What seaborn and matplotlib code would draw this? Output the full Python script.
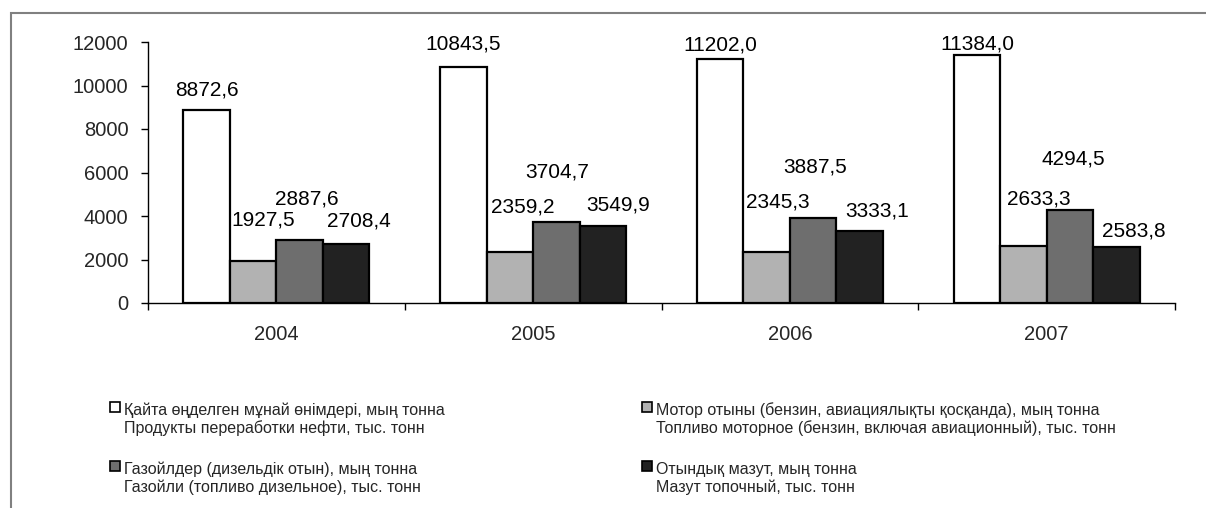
import numpy as np
import pandas as pd
import matplotlib
matplotlib.use("Agg")
import matplotlib.pyplot as plt
import seaborn as sns
from matplotlib.patches import Patch, Rectangle
from matplotlib.legend_handler import HandlerPatch

# ---------------- data ----------------
years = ["2004", "2005", "2006", "2007"]
refined = [8872.6, 10843.5, 11202.0, 11384.0]
motor = [1927.5, 2359.2, 2345.3, 2633.3]
gasoil = [2887.6, 3704.7, 3887.5, 4294.5]
mazut = [2708.4, 3549.9, 3333.1, 2583.8]

series_names = [
    "Қайта өңделген мұнай өнімдері, мың тонна\nПродукты переработки нефти, тыс. тонн",
    "Мотор отыны (бензин, авиациялықты қосқанда), мың тонна\nТопливо моторное (бензин, включая авиационный), тыс. тонн",
    "Газойлдер (дизельдік отын), мың тонна\nГазойли (топливо дизельное), тыс. тонн",
    "Отындық мазут, мың тонна\nМазут топочный, тыс. тонн",
]
series_values = [refined, motor, gasoil, mazut]
colors = ["#ffffff", "#b2b2b2", "#6e6e6e", "#222222"]

# label offsets (pixels, dx / dy above bar top) — layout only
label_offsets = [
    [(0, 20), (0, 23), (0, 14), (1, 11)],
    [(10, 41), (13, 45), (11, 50), (15, 47)],
    [(7, 41), (1, 50), (2, 51), (3, 51)],
    [(13, 23), (15, 21), (17, 20), (17, 16)],
]

rows = []
for name, vals in zip(series_names, series_values):
    for y, v in zip(years, vals):
        rows.append({"year": y, "value": v, "series": name})
df = pd.DataFrame(rows)

sns.set_theme(style="white")
plt.rcParams["font.family"] = ["Liberation Sans", "DejaVu Sans"]

W, H = 1206, 508
fig = plt.figure(figsize=(W / 100, H / 100), dpi=100)
ax = fig.add_axes([148 / W, 205 / H, 1027 / W, 261 / H])

sns.barplot(
    data=df, x="year", y="value", hue="series", hue_order=series_names,
    order=years, palette=dict(zip(series_names, colors)), saturation=1,
    edgecolor="black", linewidth=1.6, width=0.725, legend=False, ax=ax,
)

ax.set_xlim(-0.5, len(years) - 0.5)
ax.set_ylim(0, 12000)
ax.set_yticks(np.arange(0, 12001, 2000))
ax.set_yticklabels([str(int(t)) for t in np.arange(0, 12001, 2000)], fontsize=14.5)
ax.set_xlabel("")
ax.set_ylabel("")

# major x ticks at category boundaries, labels on minor ticks at centers
ax.set_xticks(np.arange(-0.5, len(years), 1.0))
ax.set_xticklabels([])
ax.set_xticks(np.arange(len(years)), minor=True)
ax.set_xticklabels(years, minor=True, fontsize=14.5)
ax.tick_params(axis="x", which="major", direction="out", length=5, width=1, color="black", bottom=True)
ax.tick_params(axis="x", which="minor", length=0, pad=16, bottom=True)
ax.tick_params(axis="y", direction="out", length=5, width=1, color="black", pad=9, left=True)

for s in ["top", "right"]:
    ax.spines[s].set_visible(False)
for s in ["left", "bottom"]:
    ax.spines[s].set_color("black")
    ax.spines[s].set_linewidth(1)
ax.grid(False)

# value labels
for ci, cont in enumerate(ax.containers):
    for bi, bar in enumerate(cont):
        v = series_values[ci][bi]
        dx, dy = label_offsets[ci][bi]
        ax.annotate(
            f"{v:.1f}".replace(".", ","),
            xy=(bar.get_x() + bar.get_width() / 2, bar.get_height()),
            xytext=(dx, dy), textcoords="offset pixels",
            ha="center", va="center", fontsize=15, color="black",
        )

# legend with square beside first line
LFS = 11.5


def square_patch(legend, orig_handle, xdescent, ydescent, width, height, fontsize):
    s = 7.2
    return Rectangle((width - s - xdescent, -ydescent + fontsize * 1.25 - 5.0), s, s)


handles = [Patch(facecolor=c, edgecolor="black", linewidth=1.2) for c in colors]
order = [0, 2, 1, 3]
leg = fig.legend(
    [handles[i] for i in order], [series_names[i] for i in order],
    ncol=2, loc="upper left", bbox_to_anchor=(104 / W, 1 - 402 / H),
    frameon=False, fontsize=LFS, handlelength=1.0, handleheight=0.7,
    handletextpad=0.25, columnspacing=12.0, labelspacing=1.6,
    borderpad=0, borderaxespad=0,
    handler_map={Patch: HandlerPatch(patch_func=square_patch)},
)

# outer frame (cropped at right and bottom)
fig.patches.append(Rectangle((11 / W, -0.05), (W + 20 - 11) / W, 1 - 13 / H + 0.05,
                             transform=fig.transFigure, fill=False,
                             edgecolor="#808080", linewidth=1.5))

fig.savefig("out.png", dpi=100, facecolor="white")
